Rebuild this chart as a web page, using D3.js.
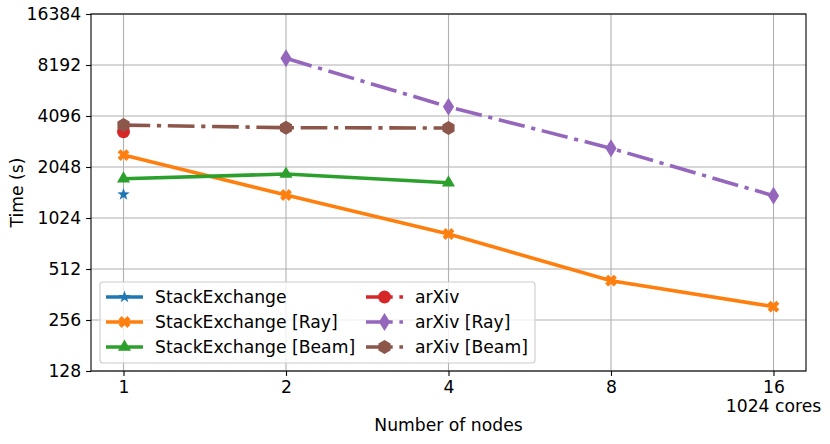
<!DOCTYPE html>
<html>
<head>
<meta charset="utf-8">
<script src="https://cdn.jsdelivr.net/npm/d3@7"></script>
<style>
  body { margin: 0; background: #fff; }
  text { font-family: "DejaVu Sans", sans-serif; fill: #000; }
</style>
</head>
<body>
<div id="chart"></div>
<script>
/********** Data **********/
var nodes = [1, 2, 4, 8, 16]
var yTicks = [128, 256, 512, 1024, 2048, 4096, 8192, 16384]

var seNodes = [1]
var seTime = [1410]
var seRayNodes = [1, 2, 4, 8, 16]
var seRayTime = [2410, 1400, 824, 437, 307]
var seBeamNodes = [1, 2, 4]
var seBeamTime = [1747, 1862, 1655]
var arxivNodes = [1]
var arxivTime = [3309]
var arxivRayNodes = [2, 4, 8, 16]
var arxivRayTime = [8970, 4640, 2640, 1386]
var arxivBeamNodes = [1, 2, 4]
var arxivBeamTime = [3620, 3495, 3480]

function pts(xs, ys) { return xs.map(function(x, i) { return {n: x, t: ys[i]} }) }

var series = [
  {name: "StackExchange", color: "#1f77b4", marker: "star", size: 6.5, dash: null, data: pts(seNodes, seTime)},
  {name: "StackExchange [Ray]", color: "#ff7f0e", marker: "x", size: 9.5, dash: null, data: pts(seRayNodes, seRayTime)},
  {name: "StackExchange [Beam]", color: "#2ca02c", marker: "tri", size: 7.5, dash: null, data: pts(seBeamNodes, seBeamTime)},
  {name: "arXiv", color: "#d62728", marker: "circle", size: 6.5, dash: "dd", data: pts(arxivNodes, arxivTime)},
  {name: "arXiv [Ray]", color: "#9467bd", marker: "thin", size: 9, dash: "dd", data: pts(arxivRayNodes, arxivRayTime)},
  {name: "arXiv [Beam]", color: "#8c564b", marker: "hex", size: 7, dash: "dd", data: pts(arxivBeamNodes, arxivBeamTime)}
]

/********** Layout **********/
var W = 830, H = 444
var pLeft = 91, pRight = 806, pTop = 14, pBottom = 371
var fs = 17.2

var svg = d3.select("#chart").append("svg")
  .attr("width", W).attr("height", H)

var x = d3.scaleLog().base(2)
  .domain([Math.pow(2, -0.2), Math.pow(2, 4.2)])
  .range([pLeft, pRight])
var y = d3.scaleLog().base(2)
  .domain([128, 16384])
  .range([pBottom, pTop])

// grid
svg.append("g").selectAll("line").data(yTicks).join("line")
  .attr("x1", pLeft).attr("x2", pRight)
  .attr("y1", function(d) { return y(d) }).attr("y2", function(d) { return y(d) })
  .attr("stroke", "#b0b0b0").attr("stroke-width", 1.1)
svg.append("g").selectAll("line").data(nodes).join("line")
  .attr("y1", pTop).attr("y2", pBottom)
  .attr("x1", function(d) { return x(d) }).attr("x2", function(d) { return x(d) })
  .attr("stroke", "#b0b0b0").attr("stroke-width", 1.1)

// axes
var xAxis = svg.append("g")
  .attr("transform", "translate(0," + pBottom + ")")
  .call(d3.axisBottom(x).tickValues(nodes).tickFormat(d3.format("d")).tickSize(4.9).tickPadding(4.9))
var yAxis = svg.append("g")
  .attr("transform", "translate(" + pLeft + ",0)")
  .call(d3.axisLeft(y).tickValues(yTicks).tickFormat(d3.format("d")).tickSize(4.9).tickPadding(4.9))
;[xAxis, yAxis].forEach(function(a) {
  a.select(".domain").remove()
  a.selectAll("line").attr("stroke", "#000").attr("stroke-width", 1.1)
  a.selectAll("text").style("font-family", "DejaVu Sans").style("font-size", fs + "px").attr("fill", "#000")
})

svg.append("rect")
  .attr("x", pLeft).attr("y", pTop)
  .attr("width", pRight - pLeft).attr("height", pBottom - pTop)
  .attr("fill", "none").attr("stroke", "#000").attr("stroke-width", 1.1)

svg.append("text")
  .attr("x", x(16)).attr("y", 412)
  .attr("text-anchor", "middle")
  .style("font-size", fs + "px")
  .text("1024 cores")

svg.append("text")
  .attr("x", (pLeft + pRight) / 2).attr("y", 431)
  .attr("text-anchor", "middle")
  .style("font-size", fs + "px")
  .text("Number of nodes")

svg.append("text")
  .attr("transform", "translate(23," + ((pTop + pBottom) / 2) + ") rotate(-90)")
  .attr("text-anchor", "middle")
  .style("font-size", fs + "px")
  .text("Time (s)")

/********** Markers **********/
function markerPath(type, r) {
  var p = d3.path()
  if (type === "circle") {
    p.moveTo(r, 0); p.arc(0, 0, r, 0, 2 * Math.PI)
  } else if (type === "star") {
    for (var i = 0; i < 10; i++) {
      var rr = i % 2 ? r * 0.4 : r
      var a = -Math.PI / 2 + i * Math.PI / 5
      if (i) p.lineTo(rr * Math.cos(a), rr * Math.sin(a)); else p.moveTo(rr * Math.cos(a), rr * Math.sin(a))
    }
  } else if (type === "tri") {
    p.moveTo(0, -r); p.lineTo(r * 0.87, r * 0.5); p.lineTo(-r * 0.87, r * 0.5)
  } else if (type === "thin") {
    p.moveTo(0, -r); p.lineTo(r * 0.62, 0); p.lineTo(0, r); p.lineTo(-r * 0.62, 0)
  } else if (type === "hex") {
    for (var j = 0; j < 6; j++) {
      var b = -Math.PI / 2 + j * Math.PI / 3
      if (j) p.lineTo(r * Math.cos(b), r * Math.sin(b)); else p.moveTo(r * Math.cos(b), r * Math.sin(b))
    }
  } else if (type === "x") {
    var s = r * 0.62, w = r * 0.32
    var base = [[w, 0], [s, s - w], [s - w, s], [0, w]]
    var all = []
    for (var k = 0; k < 4; k++) {
      var ang = k * Math.PI / 2
      base.forEach(function(q) {
        all.push([q[0] * Math.cos(ang) - q[1] * Math.sin(ang), q[0] * Math.sin(ang) + q[1] * Math.cos(ang)])
      })
    }
    all.forEach(function(q, i) { if (i) p.lineTo(q[0], q[1]); else p.moveTo(q[0], q[1]) })
  }
  p.closePath()
  return p.toString()
}

var line = d3.line()
  .x(function(d) { return x(d.n) })
  .y(function(d) { return y(d.t) })

var dashArr = "26.7,6.7,4.2,6.7"

series.forEach(function(s) {
  var g = svg.append("g")
  if (s.data.length > 1) {
    g.append("path").datum(s.data)
      .attr("fill", "none").attr("stroke", s.color).attr("stroke-width", 3.6)
      .attr("stroke-dasharray", s.dash ? dashArr : null)
      .attr("d", line)
  }
  g.selectAll("path.m").data(s.data).join("path")
    .attr("class", "m")
    .attr("transform", function(d) { return "translate(" + x(d.n) + "," + y(d.t) + ")" })
    .attr("d", markerPath(s.marker, s.size))
    .attr("fill", s.color)
})

/********** Legend **********/
var lg = svg.append("g")
lg.append("rect")
  .attr("x", 100).attr("y", 282).attr("width", 435).attr("height", 81)
  .attr("rx", 3).attr("fill", "#fff").attr("fill-opacity", 0.8)
  .attr("stroke", "#cccccc").attr("stroke-width", 1.1)

series.forEach(function(s, i) {
  var col = Math.floor(i / 3), row = i % 3
  var hx = col ? 366 : 106
  var ty = 297 + row * 25
  var gl = lg.append("g")
  gl.append("line")
    .attr("x1", hx).attr("x2", hx + 37).attr("y1", ty).attr("y2", ty)
    .attr("stroke", s.color).attr("stroke-width", 3.6)
    .attr("stroke-dasharray", s.dash ? dashArr : null)
  gl.append("path")
    .attr("transform", "translate(" + (hx + 18.5) + "," + ty + ")")
    .attr("d", markerPath(s.marker, s.size))
    .attr("fill", s.color)
  gl.append("text")
    .attr("x", col ? 415 : 155).attr("y", ty).attr("dy", "0.36em")
    .style("font-size", fs + "px")
    .text(s.name)
})
</script>
</body>
</html>
